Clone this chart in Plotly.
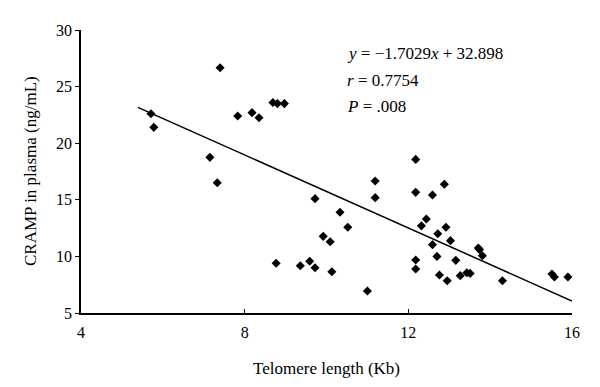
import plotly.graph_objects as go

# Telomere length (Kb)
telomere = [5.71, 5.78, 7.15, 7.33, 7.40, 7.83, 8.18, 8.35, 8.69, 8.80,
            8.97, 8.77, 9.36, 9.59, 9.72, 9.72, 9.92, 10.09, 10.13, 10.33,
            10.52, 11.00, 11.19, 11.19, 12.18, 12.18, 12.18, 12.18, 12.32, 12.44,
            12.59, 12.59, 12.70, 12.72, 12.76, 12.88, 12.92, 12.95, 13.03, 13.16,
            13.27, 13.43, 13.51, 13.71, 13.74, 13.81, 14.30, 15.51, 15.57, 15.90]
# CRAMP in plasma (ng/mL)
cramp = [22.6, 21.4, 18.75, 16.5, 26.67, 22.4, 22.7, 22.25, 23.6, 23.5,
         23.5, 9.39, 9.18, 9.57, 9.0, 15.1, 11.77, 11.3, 8.65, 13.9,
         12.57, 6.94, 16.66, 15.19, 18.57, 15.66, 9.68, 8.89, 12.7, 13.3,
         15.42, 11.04, 10.0, 12.0, 8.36, 16.37, 12.57, 7.85, 11.39, 9.65,
         8.30, 8.56, 8.50, 10.74, 10.6, 10.06, 7.85, 8.45, 8.18, 8.18]

# Regression line as drawn
fit_x = [5.39, 16.0]
fit_y = [23.17, 6.06]

x_ticks = [4, 8, 12, 16]
y_ticks = [5, 10, 15, 20, 25, 30]

stats_lines = ["<i>y</i> = −1.7029<i>x</i> + 32.898",
               "<i>r</i> = 0.7754",
               "<i>P</i> = .008"]

FONT = "Liberation Serif"

# page body has an 8px default margin; compensate
OFF = 8
W, H = 600 - OFF, 387 - OFF
ml, mr, mt, mb = 81 - OFF, 28, 30 - OFF, 74
pw, ph = W - ml - mr, H - mt - mb


def to_paper(px, py):
    return (px - OFF - ml) / pw, 1 - (py - OFF - mt) / ph


fig = go.Figure()
fig.add_trace(go.Scatter(x=fit_x, y=fit_y, mode="lines",
                         line=dict(color="black", width=1.5), showlegend=False))
fig.add_trace(go.Scatter(x=telomere, y=cramp, mode="markers",
                         marker=dict(symbol="diamond", size=7, color="black"),
                         showlegend=False, cliponaxis=False))

for i, t in enumerate(stats_lines):
    ax, ay = to_paper(345, 53 + 27 * i)
    fig.add_annotation(x=ax, y=ay, xref="paper", yref="paper",
                       text=t, showarrow=False, xanchor="left", yanchor="middle",
                       font=dict(family=FONT, size=17, color="black"))

# axis titles as annotations
tx, ty = to_paper(30, 171)
fig.add_annotation(x=tx, y=ty, xref="paper", yref="paper",
                   text="CRAMP in plasma (ng/mL)", showarrow=False, textangle=-90,
                   xanchor="center", yanchor="middle",
                   font=dict(family=FONT, size=17, color="black"))
tx, ty = to_paper(326, 368)
fig.add_annotation(x=tx, y=ty, xref="paper", yref="paper",
                   text="Telomere length (Kb)", showarrow=False,
                   xanchor="center", yanchor="middle",
                   font=dict(family=FONT, size=17, color="black"))

fig.update_layout(
    width=W, height=H,
    margin=dict(l=ml, r=mr, t=mt, b=mb),
    plot_bgcolor="white", paper_bgcolor="white",
    font=dict(family=FONT, size=15, color="black"),
    xaxis=dict(range=[4, 16], tickvals=x_ticks, showgrid=False, zeroline=False,
               showline=True, linecolor="black", linewidth=1.5,
               ticks="inside", ticklen=4, tickcolor="black", automargin=False,
               ticklabelstandoff=4,
               tickfont=dict(family=FONT, size=16)),
    yaxis=dict(range=[5, 30], tickvals=y_ticks, showgrid=False, zeroline=False,
               showline=True, linecolor="black", linewidth=1.5,
               ticks="outside", ticklen=4, tickcolor="black", automargin=False,
               tickfont=dict(family=FONT, size=16)),
)

fig.write_html("out.html")
